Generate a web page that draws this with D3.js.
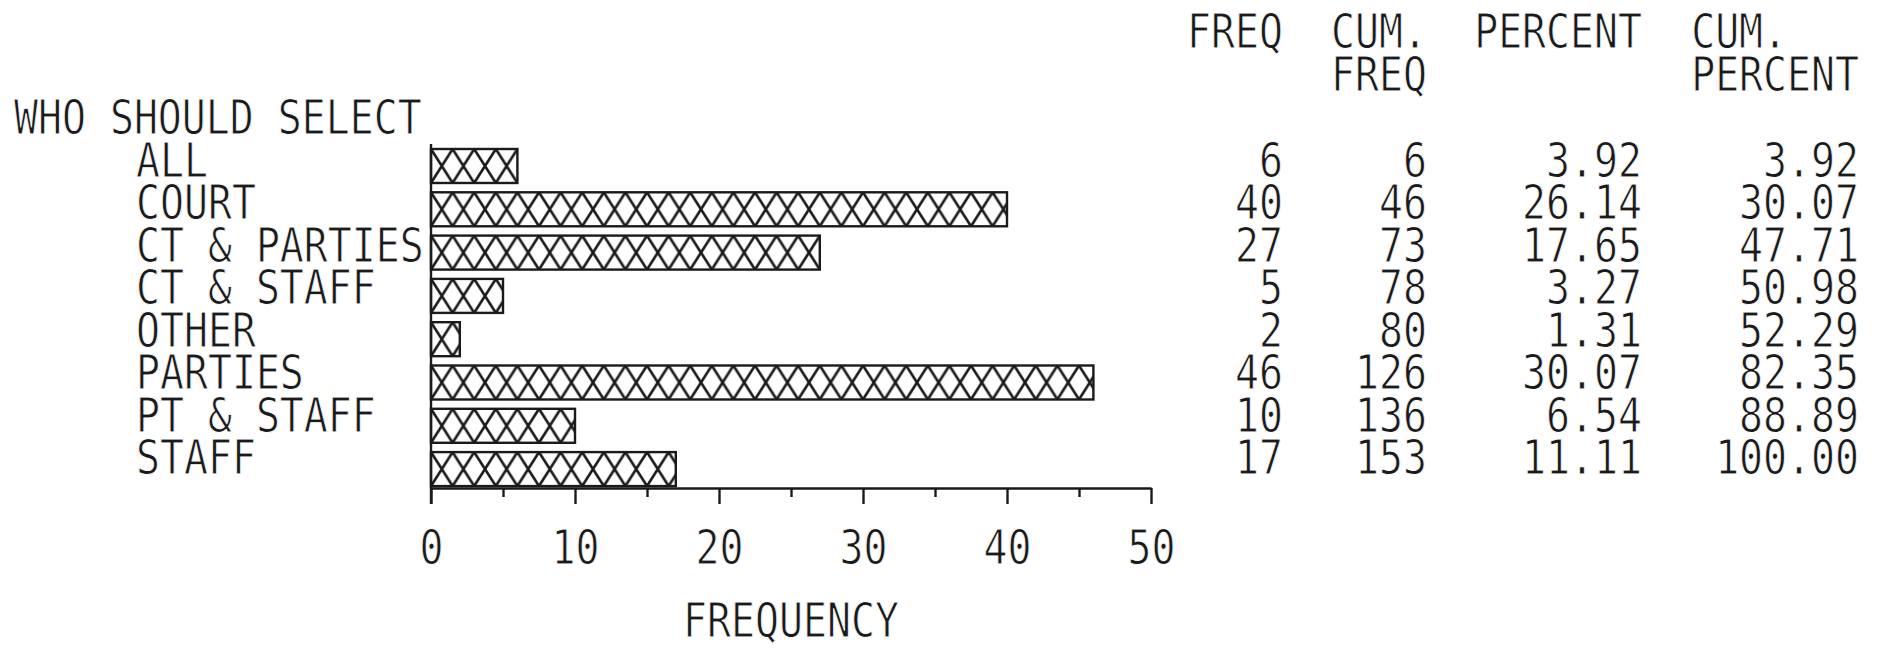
<!DOCTYPE html>
<html>
<head>
<meta charset="utf-8">
<script src="https://cdn.jsdelivr.net/npm/d3@7"></script>
<style>
  html, body { margin: 0; padding: 0; background: #fff; }
  svg { display: block; }
  text { font-family: "DejaVu Sans Mono", "Liberation Mono", monospace; fill: #1a1a1a;
         stroke: #fff; stroke-width: 0.9px; paint-order: fill stroke; }
</style>
</head>
<body>
<svg id="chart" width="1883" height="650"></svg>
<script>
// ---- data ----
const title = "WHO SHOULD SELECT";
const categories = ["ALL", "COURT", "CT & PARTIES", "CT & STAFF", "OTHER", "PARTIES", "PT & STAFF", "STAFF"];
const freq = [6, 40, 27, 5, 2, 46, 10, 17];
const cumFreq = [6, 46, 73, 78, 80, 126, 136, 153];
const percent = ["3.92", "26.14", "17.65", "3.27", "1.31", "30.07", "6.54", "11.11"];
const cumPercent = ["3.92", "30.07", "47.71", "50.98", "52.29", "82.35", "88.89", "100.00"];
const majorTicks = [0, 10, 20, 30, 40, 50];
const minorTicks = [5, 15, 25, 35, 45];
const xLabel = "FREQUENCY";
const headers = [["FREQ"], ["CUM.", "FREQ"], ["PERCENT"], ["CUM.", "PERCENT"]];

// ---- layout ----
const FS = 48, SX = 0.83, INK = "#1a1a1a";
const svg = d3.select("#chart");
const x = d3.scaleLinear().domain([0, 50]).range([431, 1151]);
const step = 43.3, pad = 0.215;
const y = d3.scaleBand().domain(categories)
  .range([149, 149 + step * (categories.length - pad)])
  .paddingInner(pad).paddingOuter(0);
const bw = y.bandwidth();
const axisY = 488;
// text rows (label and table baselines) are printed on a slightly tighter pitch than the bars
const textRow = d3.scalePoint().domain(categories).range([177, 474]);

function txt(parent, s, tx, ty, anchor) {
  return parent.append("text")
    .attr("transform", `translate(${tx},${ty}) scale(${SX},1)`)
    .attr("text-anchor", anchor || "start")
    .attr("font-size", FS)
    .text(s);
}

// title + category labels (one text block)
const titleX = 14, labelX = 136;
const left = svg.append("text")
  .attr("transform", `translate(${titleX},0) scale(${SX},1)`)
  .attr("font-size", FS);
left.append("tspan").attr("x", 0).attr("y", 134).text(title);
categories.forEach(c => left.append("tspan")
  .attr("x", (labelX - titleX) / SX).attr("y", textRow(c)).text(c));

// hatch patterns (one per bar, aligned to the bar)
const cellW = x(1.5) - x(0);
const defs = svg.append("defs");
categories.forEach((c, i) => {
  const p = defs.append("pattern")
    .attr("id", "hatch" + i)
    .attr("patternUnits", "userSpaceOnUse")
    .attr("x", x(0)).attr("y", y(c))
    .attr("width", cellW).attr("height", bw);
  p.append("rect").attr("width", cellW).attr("height", bw).attr("fill", "#fff");
  p.append("path")
    .attr("d", `M0,0L${cellW},${bw}M${cellW},0L0,${bw}`)
    .attr("stroke", INK).attr("stroke-width", 2.6).attr("fill", "none");
});

// bars
svg.append("g").selectAll("rect").data(categories).join("rect")
  .attr("x", x(0))
  .attr("y", c => y(c))
  .attr("width", (c, i) => x(freq[i]) - x(0))
  .attr("height", bw)
  .attr("fill", (c, i) => `url(#hatch${i})`)
  .attr("stroke", INK).attr("stroke-width", 2.4);

// vertical zero line
svg.append("line")
  .attr("x1", x(0)).attr("x2", x(0))
  .attr("y1", 144).attr("y2", axisY + 16)
  .attr("stroke", INK).attr("stroke-width", 2.4);

// x axis: major ticks
const gMajor = svg.append("g").attr("transform", `translate(0,${axisY})`)
  .call(d3.axisBottom(x).tickValues(majorTicks).tickSize(16).tickSizeOuter(0).tickPadding(26).tickFormat(d3.format("d")));
gMajor.select(".domain").attr("stroke", INK).attr("stroke-width", 2.4);
gMajor.selectAll(".tick line").attr("stroke", INK).attr("stroke-width", 2.4);
gMajor.selectAll(".tick text")
  .attr("font-size", FS).attr("font-family", "DejaVu Sans Mono")
  .attr("fill", INK)
  .attr("transform", `scale(${SX},1)`);

// x axis: minor ticks
const gMinor = svg.append("g").attr("transform", `translate(0,${axisY})`)
  .call(d3.axisBottom(x).tickValues(minorTicks).tickSize(9).tickFormat(""));
gMinor.select(".domain").remove();
gMinor.selectAll(".tick line").attr("stroke", INK).attr("stroke-width", 2.4);

// x label
txt(svg, xLabel, (x(0) + x(50)) / 2, 637, "middle");

// table (one text block per column)
const colRight = [1283, 1427, 1642, 1859];
const cols = [freq, cumFreq, percent, cumPercent];
const headBase = [48, 91];
cols.forEach((col, j) => {
  const h = headers[j];
  const t = svg.append("text")
    .attr("transform", `translate(${colRight[j]},0) scale(${SX},1)`)
    .attr("font-size", FS).attr("text-anchor", "end");
  let first = null;
  if (h.length > 1) first = t.append("tspan").attr("text-anchor", "start").attr("y", headBase[0]).text(h[0]);
  const last = t.append("tspan").attr("x", 0).attr("y", headBase[h.length - 1]).text(h[h.length - 1]);
  categories.forEach((c, i) => t.append("tspan").attr("x", 0).attr("y", textRow(c)).text(String(col[i])));
  if (first) {
    const w = last.node().getComputedTextLength();
    first.attr("x", -w);
  }
});
</script>
</body>
</html>
